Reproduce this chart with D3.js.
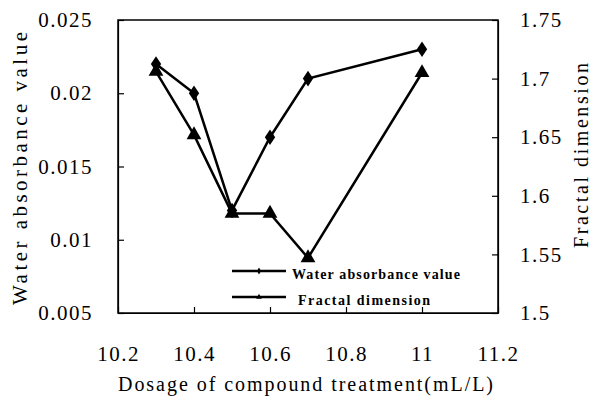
<!DOCTYPE html>
<html lang="en">
<head>
    <meta charset="UTF-8">
    <title>Water absorbance and fractal dimension</title>
    <style>
        body{ margin:0; background:#fff; }
        svg{ display:block; }
        .axis text{
            font-family: "Liberation Serif", serif;
            font-size: 21px;
            letter-spacing: 1.5px;
            fill:#000;
        }
        .axis path, .axis line{ stroke:#000; stroke-width:1.2px; }
        .title{
            font-family: "Liberation Serif", serif;
            fill:#000;
        }
        .series{ fill:none; stroke:#000; stroke-width:2.5px; }
        .legend text{
            font-family: "Liberation Serif", serif;
            font-size: 14px;
            font-weight: bold;
        }
    </style>
    <script src="https://cdn.jsdelivr.net/npm/d3@7"></script>
</head>
<body>
<svg id="main" width="591" height="400"></svg>
<script>
    // values
    const dosage = [10.3, 10.4, 10.5, 10.6, 10.7, 11]
    const waterAbsorbance = [0.022, 0.020, 0.012, 0.017, 0.021, 0.023]
    const fractalDim = [1.706, 1.652, 1.585, 1.585, 1.547, 1.705]
    const xTicks = [10.2, 10.4, 10.6, 10.8, 11, 11.2]
    const leftTicks = [0.005, 0.01, 0.015, 0.02, 0.025]
    const rightTicks = [1.5, 1.55, 1.6, 1.65, 1.7, 1.75]

    const margins = {top:20, bottom:87, left:118, right:93}
    const W = 591, H = 400
    const svg = d3.select("#main")

    const xScale = d3.scaleLinear().domain([10.2, 11.2]).range([margins.left, W - margins.right])
    const yLeft = d3.scaleLinear().domain([0.005, 0.025]).range([H - margins.bottom, margins.top])
    const yRight = d3.scaleLinear().domain([1.5, 1.75]).range([H - margins.bottom, margins.top])

    // frame
    svg.append("rect")
        .attr("x", margins.left).attr("y", margins.top)
        .attr("width", W - margins.right - margins.left)
        .attr("height", H - margins.bottom - margins.top)
        .attr("fill", "none").attr("stroke", "#000").attr("stroke-width", 1.5)

    svg.append("g")
        .attr("class", "axis")
        .attr("transform", `translate(0,${H - margins.bottom})`)
        .call(d3.axisBottom(xScale).tickValues(xTicks).tickSize(-6).tickSizeOuter(0).tickPadding(33)
            .tickFormat(d3.format("")))
    svg.append("g")
        .attr("class", "axis")
        .attr("transform", `translate(${margins.left},0)`)
        .call(d3.axisLeft(yLeft).tickValues(leftTicks).tickSize(-6).tickSizeOuter(0).tickPadding(25)
            .tickFormat(d3.format("")))
    svg.append("g")
        .attr("class", "axis")
        .attr("transform", `translate(${W - margins.right},0)`)
        .call(d3.axisRight(yRight).tickValues(rightTicks).tickSize(-6).tickSizeOuter(0).tickPadding(22)
            .tickFormat(d3.format("")))

    // axis titles
    svg.append("text").attr("class", "title")
        .attr("x", 118).attr("y", 391)
        .attr("textLength", 375).attr("lengthAdjust", "spacing")
        .style("font-size", "20px")
        .text("Dosage of compound treatment(mL/L)")
    svg.append("text").attr("class", "title")
        .attr("transform", `translate(27,305) rotate(-90)`)
        .attr("textLength", 273).attr("lengthAdjust", "spacing")
        .style("font-size", "21px")
        .text("Water absorbance value")
    svg.append("text").attr("class", "title")
        .attr("transform", `translate(588,248) rotate(-90)`)
        .attr("textLength", 185).attr("lengthAdjust", "spacing")
        .style("font-size", "20px")
        .text("Fractal dimension")

    const waterData = dosage.map((d, i) => ({x:d, y:waterAbsorbance[i]}))
    const fractalData = dosage.map((d, i) => ({x:d, y:fractalDim[i]}))

    const lineWater = d3.line().x(d => xScale(d.x)).y(d => yLeft(d.y))
    const lineFractal = d3.line().x(d => xScale(d.x)).y(d => yRight(d.y))

    svg.append("path").attr("class", "series").attr("d", lineWater(waterData))
    svg.append("path").attr("class", "series").attr("d", lineFractal(fractalData))

    const diamond = d3.symbol().type(d3.symbolDiamond).size(70)
    const triangle = d3.symbol().type(d3.symbolTriangle).size(95)

    svg.append("g").selectAll("path")
        .data(waterData).enter().append("path")
        .attr("transform", d => `translate(${xScale(d.x)},${yLeft(d.y)}) scale(1.15,1)`)
        .attr("d", diamond).attr("fill", "#000")
    svg.append("g").selectAll("path")
        .data(fractalData).enter().append("path")
        .attr("transform", d => `translate(${xScale(d.x)},${yRight(d.y)})`)
        .attr("d", triangle).attr("fill", "#000")

    // legend
    const legend = svg.append("g").attr("class", "legend")
    const items = [
        {label:"Water absorbance value", sym:d3.symbol().type(d3.symbolDiamond).size(14), y:271, tx:292, len:168},
        {label:"Fractal dimension", sym:d3.symbol().type(d3.symbolTriangle).size(14), y:297, tx:298, len:132}
    ]
    items.forEach(it => {
        legend.append("line").attr("x1", 232).attr("x2", 286).attr("y1", it.y).attr("y2", it.y)
            .attr("stroke", "#000").attr("stroke-width", 2.5)
        legend.append("path").attr("transform", `translate(259,${it.y})`).attr("d", it.sym())
        legend.append("text").attr("x", it.tx).attr("y", it.y + 8)
            .attr("textLength", it.len).attr("lengthAdjust", "spacing")
            .text(it.label)
    })
</script>
</body>
</html>
